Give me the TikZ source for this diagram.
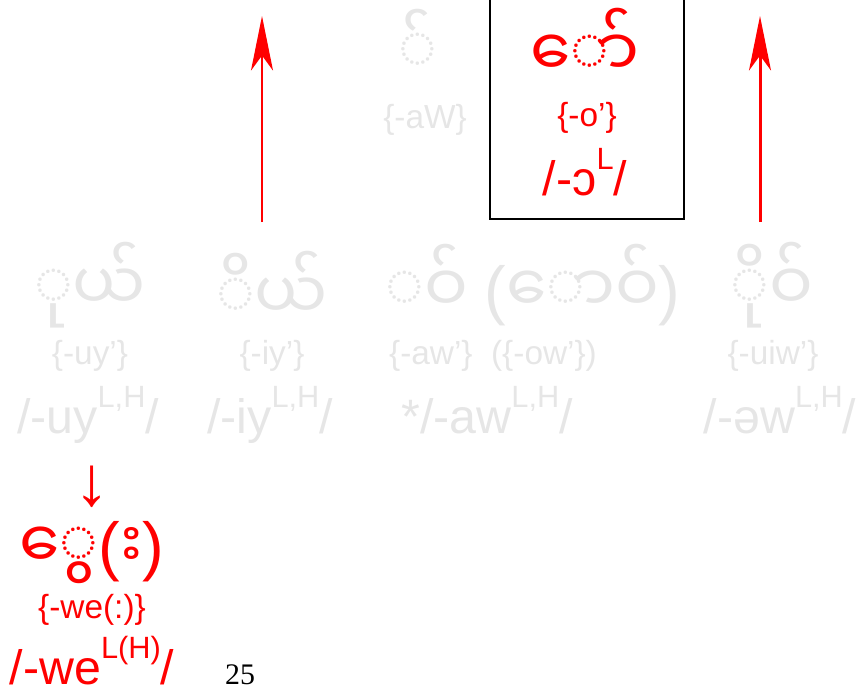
\documentclass[tikz,border=0pt]{standalone}
\usepackage{fontspec}
\setmainfont{Liberation Sans}
\newfontfamily\myan[Script=Myanmar]{Noto Sans Myanmar UI}
\newfontfamily\pgnum{Liberation Serif}
\font\visarga="Noto Sans Myanmar UI:script=latn" at 37pt
\usetikzlibrary{arrows.meta}
\definecolor{faded}{RGB}{230,230,230}
\newcommand{\tone}[1]{\raisebox{0.52em}{\fontsize{17.5}{17.5}\selectfont #1}}
\newcommand{\paren}[1]{{\normalfont\fontsize{37}{37}\selectfont #1}}

\begin{document}
\begin{tikzpicture}[x=0.02cm, y=-0.02cm,
    >={Stealth[length=31pt,width=12.5pt,inset=8.5pt]},
    burmese/.style={font=\myan\fontsize{37}{37}\selectfont},
    translit/.style={font=\fontsize{19}{19}\selectfont},
    phon/.style={font=\fontsize{27.5}{27.5}\selectfont},
    oldform/.style={text=faded},
    newform/.style={text=red}]
    \useasboundingbox (0,0) rectangle (858,694);
    \clip (0,0) rectangle (858,694);

    % box round the new form
    \draw[line width=0.7pt] (490,-5) rectangle (684,219);

    % forms at the top
    \node[burmese, oldform] (aWmm) at (418,42) {◌်};
    \node[translit, oldform] (aWtr) at (425,120) {\{-aW\}};
    \node[burmese, newform] (omm) at (585,42) {◌ော်};
    \node[translit, newform] (otr) at (587,118) {\{-o’\}};
    \node[phon, newform, anchor=base] (oipa) at (585,195) {/-ɔ\tone{L}/};

    % rhymes in the middle row
    \node[burmese, oldform] (uymm) at (90,285) {◌ုယ်};
    \node[translit, oldform] (uytr) at (90,356) {\{-uy’\}};
    \node[phon, oldform, anchor=base] (uyipa) at (88,433) {/-uy\tone{L,H}/};

    \node[burmese, oldform] (iymm) at (272,285) {◌ိယ်};
    \node[translit, oldform] (iytr) at (272,356) {\{-iy’\}};
    \node[phon, oldform, anchor=base] (iyipa) at (270,433) {/-iy\tone{L,H}/};

    \node[burmese, oldform] (awmm) at (533,285) {◌ဝ် \paren{(}◌ောဝ်\paren{)}};
    \node[translit, oldform] (awtr) at (493,356) {\{-aw’\}\ \ (\{-ow’\})};
    \node[phon, oldform, anchor=base] (awipa) at (487,433) {*/-aw\tone{L,H}/};

    \node[burmese, oldform] (uiwmm) at (772,285) {◌ိုဝ်};
    \node[translit, oldform] (uiwtr) at (773,356) {\{-uiw’\}};
    \node[phon, oldform, anchor=base] (uiwipa) at (780,433) {/-əw\tone{L,H}/};

    % arrows up
    \coordinate (iytop) at (262,16);
    \coordinate (uiwtop) at (760,16);
    \draw[->, red, line width=1.7pt] (262,222) -- (iytop);
    \draw[->, red, line width=1.7pt] (760,222) -- (uiwtop);

    % form at the bottom
    \node[font=\fontsize{40}{40}\selectfont, text=red] (down) at (92,487) {↓};
    \node[burmese, newform] (wemm) at (92,553) {◌ွေ\paren{(}{\visarga း}\paren{)}};
    \node[translit, newform] (wetr) at (92,610) {\{-we(:)\}};
    \node[phon, newform, anchor=base] (weipa) at (92,684) {/-we\tone{L(H)}/};

    \node[font=\pgnum\fontsize{17}{17}\selectfont, anchor=base] (page) at (240,684) {25};
\end{tikzpicture}
\end{document}
